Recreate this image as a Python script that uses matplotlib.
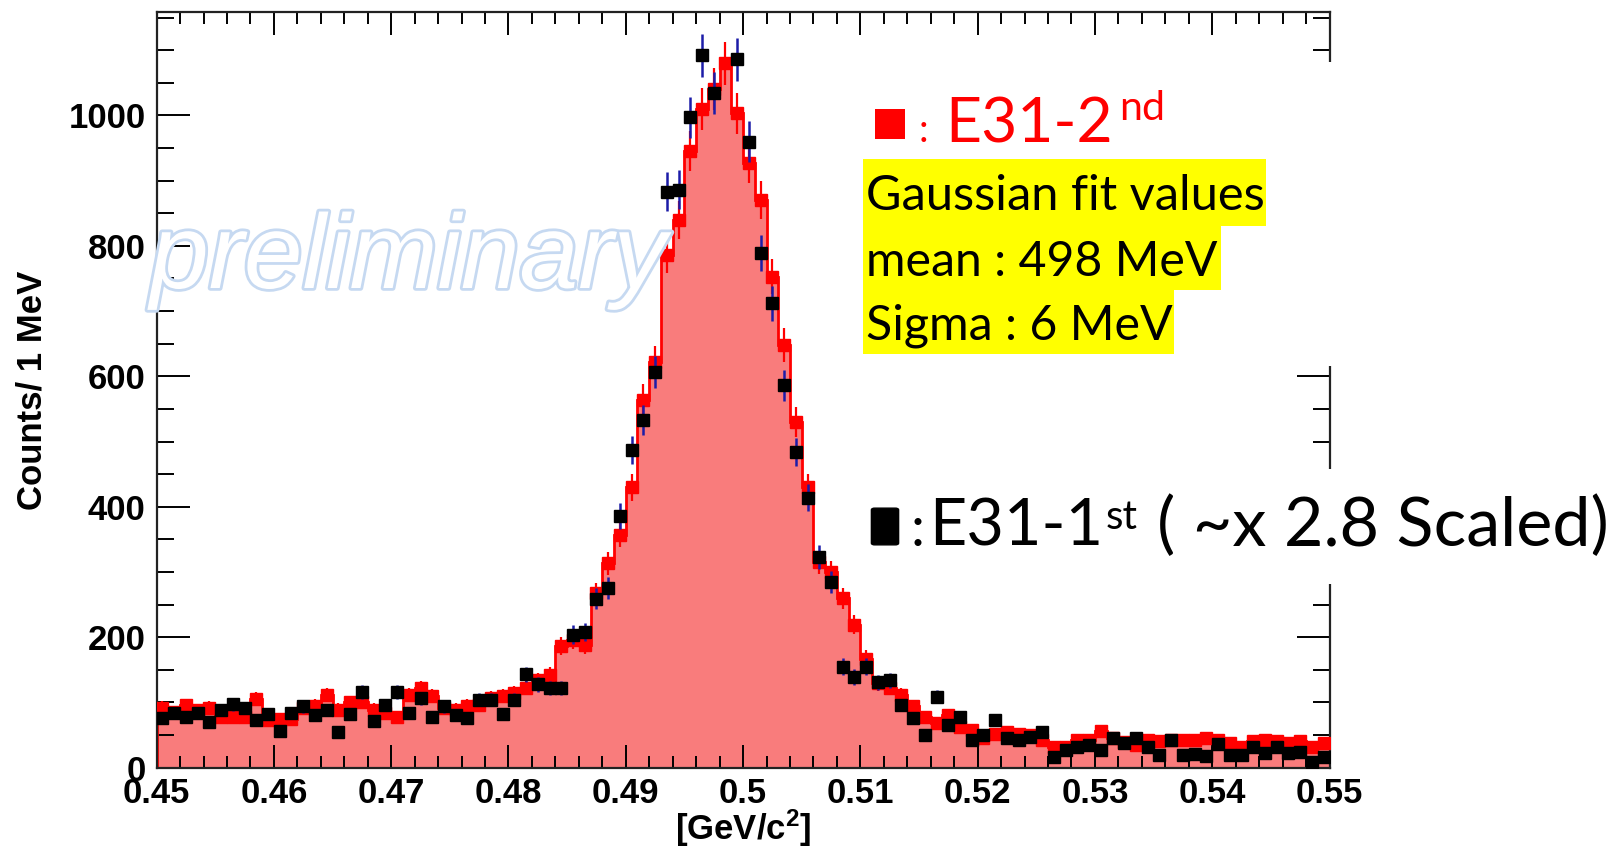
import numpy as np
import matplotlib
matplotlib.use("Agg")
import matplotlib.pyplot as plt
from matplotlib.patches import Rectangle, FancyBboxPatch
from matplotlib.ticker import MultipleLocator, FormatStrFormatter
import matplotlib.patheffects as pe

# ---------------- data ----------------
x_min, x_max, n_bins = 0.45, 0.55, 100

# E31-2nd histogram (counts / 1 MeV)
red_counts = [
    92, 85, 96, 88, 92, 78, 78, 78, 105, 73,
    74, 74, 91, 95, 111, 89, 100, 101, 89, 83,
    78, 111, 122, 110, 92, 89, 95, 96, 107, 110,
    114, 122, 134, 142, 186, 196, 188, 267, 313, 357,
    430, 564, 622, 786, 840, 945, 1010, 1040, 1080, 1003,
    927, 870, 753, 648, 530, 430, 315, 300, 260, 219,
    167, 129, 122, 111, 94, 78, 68, 81, 63, 58,
    45, 52, 55, 52, 50, 43, 32, 32, 43, 43,
    56, 45, 40, 35, 43, 41, 43, 43, 43, 46,
    42, 37, 31, 41, 43, 41, 37, 41, 31, 37,
]

# E31-1st (~x2.8 scaled) points
black_counts = [
    76, 83, 78, 83, 70, 88, 97, 91, 73, 82,
    56, 84, 94, 81, 88, 54, 82, 116, 72, 96,
    116, 84, 106, 78, 94, 81, 76, 104, 104, 82,
    104, 143, 128, 122, 122, 204, 208, 259, 275, 386,
    487, 533, 607, 883, 886, 997, 1092, 1034, np.nan, 1086,
    960, 789, 712, 586, 484, 414, 323, 285, 155, 139,
    155, 131, 134, 96, 76, 50, 109, 65, 78, 42,
    50, 73, 45, 42, 47, 55, 17, 27, 32, 35,
    27, 45, 37, 46, 32, 19, 42, 19, 21, 18,
    36, 19, 19, 32, 22, 32, 22, 24, 8, 17,
]

y_ticks = [0, 200, 400, 600, 800, 1000]
x_ticks = [0.45, 0.46, 0.47, 0.48, 0.49, 0.50, 0.51, 0.52, 0.53, 0.54, 0.55]

# ---------------- figure ----------------
W, H = 1616, 849
plt.rcParams['font.family'] = ['Liberation Sans', 'DejaVu Sans']
plt.rcParams['mathtext.fontset'] = 'custom'
plt.rcParams['mathtext.rm'] = 'Liberation Sans'
plt.rcParams['mathtext.bf'] = 'Liberation Sans:bold'
plt.rcParams['mathtext.it'] = 'Liberation Sans:italic'

fig = plt.figure(figsize=(W / 100, H / 100), dpi=100)
fig.patch.set_facecolor('white')

def fx(px):
    return px / W

def fy(py):
    return 1 - py / H

ax_l, ax_r, ax_t, ax_b = 156.6, 1329.5, 12.4, 767.6
ax = fig.add_axes([fx(ax_l), fy(ax_b), (ax_r - ax_l) / W, (ax_b - ax_t) / H])

edges = np.linspace(x_min, x_max, n_bins + 1)
centers = 0.5 * (edges[:-1] + edges[1:])
red = np.array(red_counts, dtype=float)
blk = np.array(black_counts, dtype=float)

ax.stairs(red, edges, fill=True, facecolor='#f97c7c', edgecolor='none', zorder=1)
ax.stairs(red, edges, color='#ff0000', lw=2.0, zorder=2)
ax.errorbar(centers, red, yerr=np.sqrt(red), fmt='none', ecolor='#ff0000',
            elinewidth=1.6, zorder=3)
ax.plot(centers, red, 's', color='#ff0000', ms=8.3, mec='#ff0000', zorder=3.5)

ax.errorbar(centers, blk, yerr=np.sqrt(np.nan_to_num(blk)), fmt='none',
            ecolor='#1c1ca8', elinewidth=1.8, zorder=4)
ax.plot(centers, blk, 's', color='black', ms=8.3, mec='black', zorder=5)

ax.set_xlim(x_min, x_max)
ax.set_ylim(0, 1158)
ax.set_xticks(x_ticks)
ax.set_yticks(y_ticks)
ax.xaxis.set_major_formatter(FormatStrFormatter('%g'))
ax.xaxis.set_minor_locator(MultipleLocator(0.002))
ax.yaxis.set_minor_locator(MultipleLocator(50))

for sp in ax.spines.values():
    sp.set_linewidth(1.6)
    sp.set_color('#222222')

ax.tick_params(axis='x', which='major', direction='in', length=16.5, width=1.4,
               top=True, bottom=True, pad=7, labelsize=25)
ax.tick_params(axis='x', which='minor', direction='in', length=8.5, width=1.4,
               top=True, bottom=True)
ax.tick_params(axis='y', which='major', direction='in', length=24, width=1.4,
               left=True, right=True, pad=8, labelsize=25)
ax.tick_params(axis='y', which='minor', direction='in', length=12.5, width=1.4,
               left=True, right=True)
for lab in ax.get_xticklabels() + ax.get_yticklabels():
    lab.set_fontweight('bold')

# watermark
wm = fig.text(fx(150), fy(288), 'preliminary', fontsize=76, fontstyle='italic',
              color='white', ha='left', va='baseline', zorder=2,
              path_effects=[pe.withStroke(linewidth=4, foreground='#c6d9f1')])

# axis labels
fig.text(fx(32), fy(390), 'Counts/ 1 MeV', rotation=90, ha='center', va='center',
         fontsize=25, fontweight='bold')
fig.text(fx(743), fy(828), r'[GeV/c$^{\mathbf{2}}$]', ha='center', va='center',
         fontsize=25, fontweight='bold')

# white boxes covering frame under annotations
fig.add_artist(Rectangle((fx(858), fy(366)), (1345 - 858) / W, (366 - 62) / H,
                         transform=fig.transFigure, facecolor='white',
                         edgecolor='none', zorder=10))
fig.add_artist(Rectangle((fx(858), fy(584)), (W - 858) / W, (584 - 469) / H,
                         transform=fig.transFigure, facecolor='white',
                         edgecolor='none', zorder=10))

renderer = fig.canvas.get_renderer()

def fit_text(s, x0, base, target_w, size0, **kw):
    t = fig.text(fx(x0), fy(base), s, fontsize=size0, ha='left', va='baseline',
                 zorder=12, **kw)
    w = t.get_window_extent(renderer).width
    t.set_fontsize(size0 * target_w / w)
    return t

ann_font = ['Lato', 'DejaVu Sans']

# red legend-like annotation
fig.add_artist(Rectangle((fx(875), fy(139)), 30 / W, 30 / H,
                         transform=fig.transFigure, facecolor='#ff0000',
                         edgecolor='none', zorder=12))
fig.text(fx(919), fy(142), ':', fontsize=28, color='#ff0000', ha='left',
         va='baseline', zorder=12, family=ann_font)
fit_text('E31-2', 945, 142.5, 168, 45, color='#ff0000', family=ann_font)
fit_text('nd', 1119, 120, 46, 28, color='#ff0000', family=ann_font)

# yellow highlighted fit values
rows = [
    ('Gaussian fit values', 863, 1266, 159.3, 225.7, 210.5, 400),
    ('mean : 498 MeV', 863, 1221, 225.7, 290.0, 275.5, 352),
    ('Sigma : 6 MeV', 863, 1174, 290.0, 354.0, 339.5, 307),
]
for s, x0, x1, y0, y1, base, tw in rows:
    fig.add_artist(Rectangle((fx(x0), fy(y1)), (x1 - x0) / W, (y1 - y0) / H,
                             transform=fig.transFigure, facecolor='#ffff00',
                             edgecolor='none', zorder=11))
    fit_text(s, 866, base, tw, 33, color='black', family=ann_font)

# black annotation
fig.add_artist(FancyBboxPatch((fx(873), fy(544)), 24 / W, 35 / H,
                              boxstyle='round,pad=0.001,rounding_size=0.002',
                              transform=fig.transFigure, facecolor='black',
                              edgecolor='black', zorder=12))
fig.text(fx(911), fy(546), ':', fontsize=40, color='black', ha='left',
         va='baseline', zorder=12, family=ann_font)
fit_text('E31-1', 929, 546, 174, 46, color='black', family=ann_font)
fit_text('st', 1106, 529, 32, 30, color='black', family=ann_font)
fit_text('( ~x 2.8 Scaled)', 1157, 546, 452, 46, color='black', family=ann_font)

fig.savefig('out.png', dpi=100, facecolor='white')
